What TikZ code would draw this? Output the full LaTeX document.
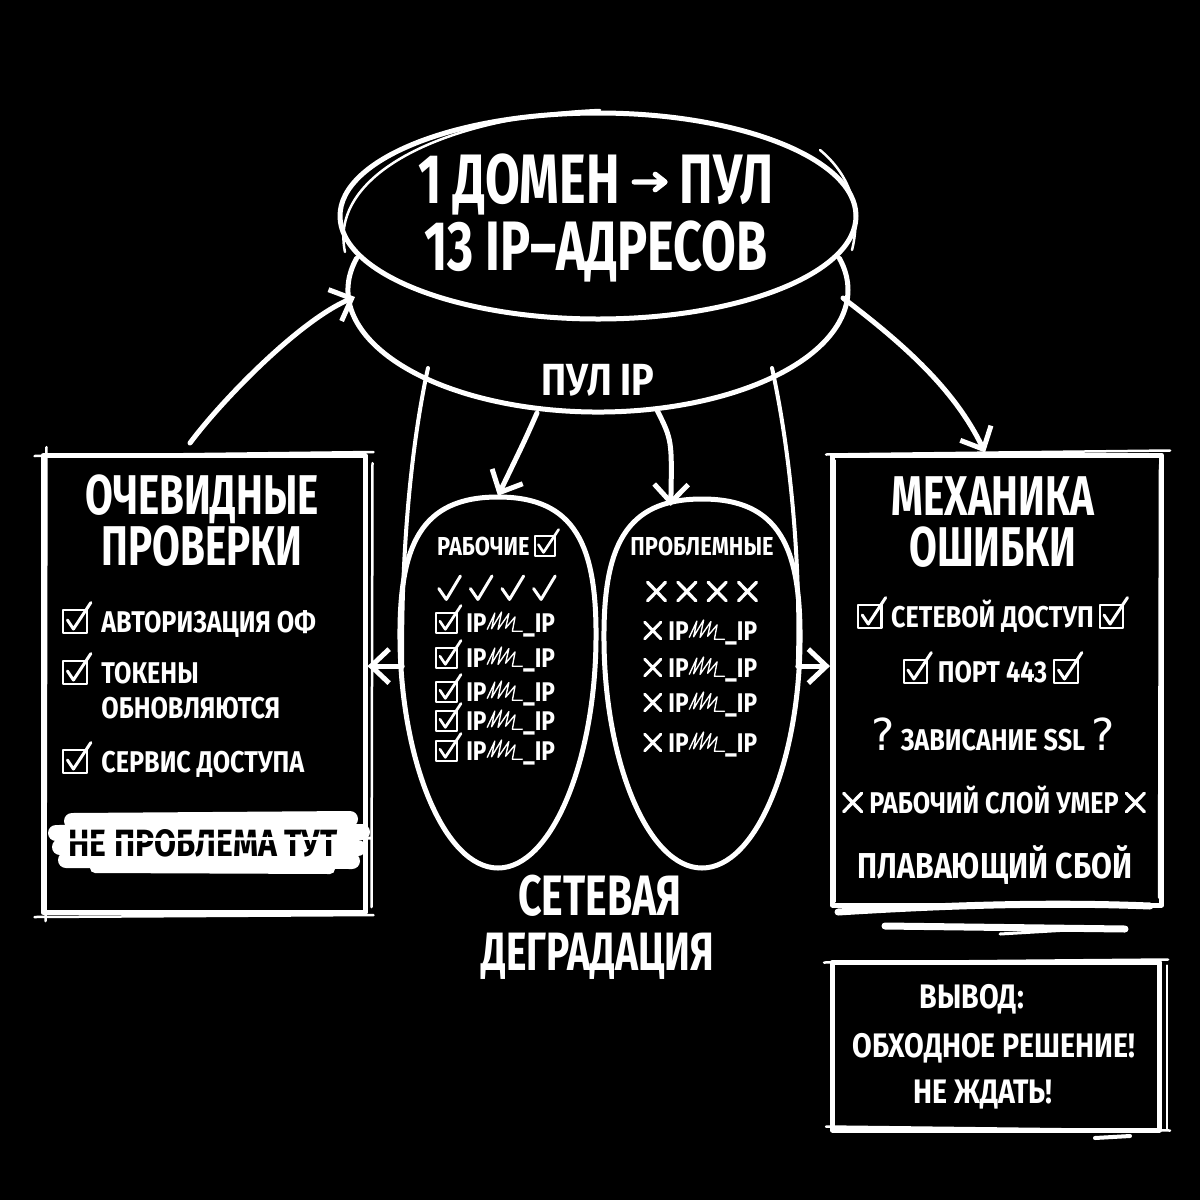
\documentclass[tikz,border=0pt]{standalone}
\usepackage{fontspec}
\setmainfont{Fira Sans}[FakeStretch=0.72]
\newfontfamily\itf{Fira Sans}[FakeStretch=0.84]
\newfontfamily\sym{DejaVu Sans}
\usetikzlibrary{arrows.meta,shapes.geometric}
\newcommand\fsz[1]{\fontsize{#1}{#1}\selectfont}
\newcommand\cbx{\tikz[baseline=0pt,x=1em,y=1em]{\draw[white,line width=0.07em,line join=round] (0,-0.04) rectangle (0.78,0.72); \draw[white,line width=0.1em,line cap=round,line join=round] (0.14,0.40)--(0.34,0.10)--(0.92,0.98);}}
\newcommand\ckm{\tikz[baseline=0pt,x=1em,y=1em]\draw[white,line width=0.1em,line cap=round,line join=round] (0,0.38)--(0.25,0.02)--(0.72,0.8);}
\newcommand\xm{\tikz[baseline=0pt,x=1em,y=1em]\draw[white,line width=0.11em,line cap=round] (0.04,0.04)--(0.64,0.66) (0.04,0.66)--(0.64,0.04);}
\newcommand\rar{\tikz[baseline=0pt,x=1em,y=1em]\draw[white,line width=0.075em,line cap=round,line join=round] (0,0.3)--(0.42,0.3) (0.3,0.41)--(0.44,0.3)--(0.3,0.19);}
\newcommand\scrib{\tikz[baseline=0pt,x=1em,y=1em]\draw[white,line width=0.05em,line join=round,line cap=round] (0.02,0.1)--(0.3,0.7)--(0.18,0.12)--(0.55,0.74)--(0.42,0.1)--(0.82,0.68)--(0.7,0.14)--(1.05,0.56)--(0.95,0.03)--(1.32,0.03);}
\begin{document}
\begin{tikzpicture}[x=1pt,y=-1pt,
  ink/.style={draw=white,line width=5pt,line cap=round,line join=round},
  thin/.style={draw=white,line width=2.5pt,line cap=round},
  arr/.style={ink,-{Straight Barb[length=18pt,width=34pt]}},
  txt/.style={text=white,inner sep=0pt,anchor=base},
  big/.style={txt,align=center,font=\bfseries\fontsize{70}{67}\selectfont},
  ttl/.style={txt,align=center,font=\bfseries\fontsize{56}{51}\selectfont},
  itm/.style={txt,font=\itf\bfseries\fsz{30},text height=22pt,text depth=0pt},
  ipr/.style={txt,anchor=base west,font=\itf\bfseries\fsz{27},text height=20pt,text depth=0pt},
  sm/.style={txt,font=\itf\bfseries\fsz{26}},
  egg/.style={ellipse,minimum width=192pt,minimum height=374pt,inner sep=0pt},
  frame/.style={ink,rectangle,inner sep=0pt}]
\fill[black] (0,0) rectangle (1200,1200);
\useasboundingbox (0,0) rectangle (1200,1200);

% drum
\node[ink,ellipse,minimum width=516pt,minimum height=206pt,inner sep=0pt] (pool) at (598,216) {};
\draw[thin] (345,252) .. controls (328,172) and (450,116) .. (600,110);
\draw[thin] (820,150) .. controls (850,175) and (862,210) .. (852,250);
\draw[ink] (598,290) ++(195:250 and 122) arc[start angle=195,end angle=-15,x radius=250,y radius=122];
\node[big] (t1) at (596,270) {1 ДОМЕН \rar\ ПУЛ\\13 IP–АДРЕСОВ};
\node[txt,font=\itf\bfseries\fsz{45}] (pl) at (598,395) {ПУЛ IP};

% ovals (egg shapes)
\node[egg] (work) at (498,683) {};
\node[egg] (bad) at (702,683) {};
\draw[ink] (498,497) .. controls (575,497) and (597,545) .. (596,640) .. controls (595,760) and (552,868) .. (498,868) .. controls (444,868) and (401,760) .. (400,640) .. controls (399,545) and (421,497) .. (498,497) -- cycle;
\draw[ink] (702,499) .. controls (779,499) and (801,547) .. (800,642) .. controls (799,762) and (756,868) .. (702,868) .. controls (648,868) and (605,762) .. (604,642) .. controls (603,547) and (625,499) .. (702,499) -- cycle;

% funnel lines
\coordinate (fl) at (428,368);
\coordinate (fr) at (772,368);
\draw[ink,line width=4pt] (fl) .. controls (410,450) and (401,560) .. (work.170);
\draw[ink,line width=4pt] (fr) .. controls (790,450) and (801,560) .. (bad.10);

% arrows from pool label
\coordinate (al) at (537,413);
\coordinate (ar) at (657,410);
\draw[arr] (al) .. controls (525,440) .. (work.north);
\draw[arr] (ar) .. controls (672,440) .. (bad.100);

% boxes
\node[frame,minimum width=322pt,minimum height=457pt] (lbox) at (204,684) {};
\node[frame,minimum width=329pt,minimum height=450pt] (rbox) at (997,680) {};
\node[frame,minimum width=327pt,minimum height=168pt] (cbox) at (996,1046) {};
\draw[thin] ([shift={(-6,3)}]lbox.north west) -- ([shift={(6,-1)}]lbox.north east);
\draw[thin] ([shift={(6,-6)}]lbox.north west) -- ([shift={(5,6)}]lbox.south west);
\draw[thin] ([shift={(5,10)}]lbox.north east) -- ([shift={(4,-8)}]lbox.south east);
\draw[thin] ([shift={(-6,2)}]lbox.south west) -- ([shift={(6,0)}]lbox.south east);
\draw[thin] ([shift={(-4,2)}]rbox.north west) -- ([shift={(6,-2)}]rbox.north east);
\draw[thin] ([shift={(5,8)}]rbox.north west) -- ([shift={(5,-6)}]rbox.south west);
\draw[thin] ([shift={(-4,12)}]rbox.north east) -- ([shift={(-5,-10)}]rbox.south east);
\draw[thin] ([shift={(-6,3)}]cbox.north west) -- ([shift={(6,0)}]cbox.north east);
\draw[thin] ([shift={(5,6)}]cbox.north east) -- ([shift={(5,-4)}]cbox.south east);
\draw[thin] ([shift={(-4,-6)}]cbox.south west) -- ([shift={(8,-2)}]cbox.south east);
\draw[white,line width=4pt,line cap=round] (1095,1138) -- (1130,1136);

% big arrows
\coordinate (la) at (190,443);
\coordinate (lt) at (355,297);
\coordinate (ra) at (843,298);
\draw[arr] (la) .. controls (222,400) and (300,320) .. (lt);
\draw[arr] (ra) .. controls (905,345) and (955,390) .. (rbox.north -| 985,0);

% side arrows
\draw[arr] (work.170) -- (work.170 -| lbox.east);
\draw[arr] (bad.10) -- (bad.10 -| rbox.west);

% left box content
\node[ttl] (lt1) at (202,565) {ОЧЕВИДНЫЕ\\ПРОВЕРКИ};
\node[itm,anchor=base west] (l1) at (62,632) {\cbx\hspace{9pt}АВТОРИЗАЦИЯ ОФ};
\node[itm,anchor=base west] (l2) at (62,683) {\cbx\hspace{9pt}ТОКЕНЫ};
\node[itm,anchor=base west] (l2b) at (62,718) {\phantom{\cbx}\hspace{9pt}ОБНОВЛЯЮТСЯ};
\node[itm,anchor=base west] (l3) at (62,772) {\cbx\hspace{9pt}СЕРВИС ДОСТУПА};
\draw[white,line width=16pt,line cap=round] (72,821) -- (350,819);
\draw[white,line width=16pt,line cap=round] (56,833) -- (362,832);
\draw[white,line width=16pt,line cap=round] (60,847) -- (358,848);
\draw[white,line width=16pt,line cap=round] (66,860) -- (352,861);
\draw[white,line width=10pt,line cap=round] (95,868) -- (330,869);
\node[txt,text=black,font=\itf\bfseries\fsz{38}] (np) at (203,856) {НЕ ПРОБЛЕМА ТУТ};
\draw[white,line width=3pt] (62,840) -- (372,838);

% ovals content
\node[sm,anchor=base west] (w0) at (437,555) {РАБОЧИЕ\,\cbx};
\node[txt,font=\fsz{30}] (w1) at (497,600) {\ckm\hspace{7pt}\ckm\hspace{7pt}\ckm\hspace{7pt}\ckm};
\node[ipr] (w2) at (435,632) {\cbx\hspace{4pt}IP\scrib\_IP};
\node[ipr] (w3) at (435,667) {\cbx\hspace{4pt}IP\scrib\_IP};
\node[ipr] (w4) at (435,701) {\cbx\hspace{4pt}IP\scrib\_IP};
\node[ipr] (w5) at (435,730) {\cbx\hspace{4pt}IP\scrib\_IP};
\node[ipr] (w6) at (435,760) {\cbx\hspace{4pt}IP\scrib\_IP};
\node[sm] (b0) at (702,555) {ПРОБЛЕМНЫЕ};
\node[txt,font=\fsz{30}] (b1) at (702,602) {\xm\hspace{9pt}\xm\hspace{9pt}\xm\hspace{9pt}\xm};
\node[ipr] (b2) at (643,640) {\xm\hspace{6pt}IP\scrib\_IP};
\node[ipr] (b3) at (643,677) {\xm\hspace{6pt}IP\scrib\_IP};
\node[ipr] (b4) at (643,712) {\xm\hspace{6pt}IP\scrib\_IP};
\node[ipr] (b5) at (643,752) {\xm\hspace{6pt}IP\scrib\_IP};

% center label
\node[txt,font=\bfseries\fsz{57},text height=40pt,text depth=0pt] (s1) at (600,915) {СЕТЕВАЯ};
\node[txt,font=\bfseries\fsz{54},text height=38pt,text depth=0pt] (s2) at (598,970) {ДЕГРАДАЦИЯ};

% right box content
\node[ttl] (rt1) at (993,566) {МЕХАНИКА\\ОШИБКИ};
\node[itm] (r1) at (993,627) {\cbx\hspace{4pt}СЕТЕВОЙ ДОСТУП\hspace{5pt}\cbx};
\node[itm] (r2) at (993,682) {\cbx\hspace{5pt}ПОРТ 443\hspace{6pt}\cbx};
\node[itm] (r3) at (993,750) {{\sym\mdseries\fsz{44}?}\hspace{6pt}ЗАВИСАНИЕ SSL\hspace{6pt}{\sym\mdseries\fsz{44}?}};
\node[itm] (r4) at (994,813) {\xm\hspace{6pt}РАБОЧИЙ СЛОЙ УМЕР\hspace{6pt}\xm};
\node[txt,font=\itf\bfseries\fsz{36},text height=26pt,text depth=0pt] (r5) at (995,878) {ПЛАВАЮЩИЙ СБОЙ};
\draw[white,line width=7pt,line cap=round] (838,912) .. controls (950,905) and (1050,902) .. (1150,906);
\draw[white,line width=7pt,line cap=round] (885,926) -- (1125,929);
\draw[white,line width=3pt,line cap=round] (1000,934) -- (1085,929);

% conclusion
\node[itm,font=\itf\bfseries\fsz{34}] (c1) at (972,1008) {ВЫВОД:};
\node[itm,font=\itf\bfseries\fsz{34}] (c2) at (994,1057) {ОБХОДНОЕ РЕШЕНИЕ!};
\node[itm,font=\itf\bfseries\fsz{34}] (c3) at (983,1103) {НЕ ЖДАТЬ!};
\end{tikzpicture}
\end{document}
